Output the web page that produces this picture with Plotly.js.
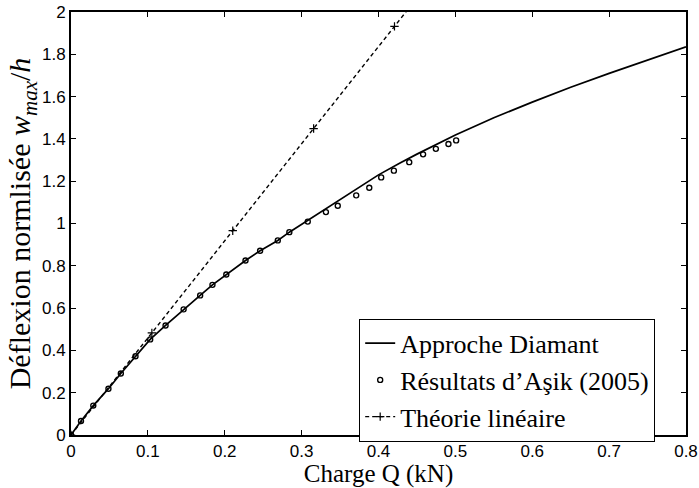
<!DOCTYPE html>
<html>
<head>
<meta charset="utf-8">
<script src="https://cdn.plot.ly/plotly-3.0.1.min.js"></script>
<style>html,body{margin:0;padding:0;background:#fff}#chart{width:699px;height:488px}</style>
</head>
<body>
<div id="chart"></div>
<script>
// Approche Diamant (solid curve)
const diamantQ = [0, 0.013, 0.029, 0.0487, 0.0648, 0.0839, 0.103, 0.123, 0.1465, 0.168, 0.184, 0.202, 0.227, 0.246, 0.269, 0.284, 0.308, 0.35, 0.4, 0.428, 0.45, 0.5, 0.55, 0.6, 0.65, 0.7, 0.75, 0.8];
const diamantW = [0, 0.066, 0.139, 0.219, 0.291, 0.372, 0.452, 0.518, 0.594, 0.660, 0.710, 0.759, 0.825, 0.871, 0.920, 0.959, 1.015, 1.112, 1.230, 1.286, 1.328, 1.418, 1.500, 1.574, 1.644, 1.710, 1.774, 1.835];
// Résultats d'Aşik (2005) (circles)
const asikQ = [0, 0.013, 0.029, 0.0487, 0.0648, 0.0839, 0.103, 0.123, 0.1465, 0.168, 0.184, 0.202, 0.227, 0.246, 0.269, 0.284, 0.308, 0.3316, 0.347, 0.371, 0.388, 0.4035, 0.420, 0.440, 0.458, 0.4746, 0.491, 0.501];
const asikW = [0, 0.066, 0.139, 0.219, 0.291, 0.372, 0.452, 0.518, 0.594, 0.660, 0.710, 0.759, 0.825, 0.871, 0.920, 0.959, 1.009, 1.054, 1.084, 1.133, 1.169, 1.218, 1.250, 1.290, 1.327, 1.353, 1.376, 1.393];
// Théorie linéaire (dashed)
const lineQ = [0, 0.1052, 0.2104, 0.3156, 0.4208, 0.526];
const lineW = [0, 0.483, 0.966, 1.449, 1.932, 2.415];

const xTicks = [0, 0.1, 0.2, 0.3, 0.4, 0.5, 0.6, 0.7, 0.8];
const xTickText = ['0', '0.1', '0.2', '0.3', '0.4', '0.5', '0.6', '0.7', '0.8'];
const yTicks = [0, 0.2, 0.4, 0.6, 0.8, 1, 1.2, 1.4, 1.6, 1.8, 2];
const yTickText = ['0', '0.2', '0.4', '0.6', '0.8', '1', '1.2', '1.4', '1.6', '1.8', '2'];

const serif = '"Liberation Serif", "DejaVu Serif", serif';
const sans = '"Liberation Sans", Arial, sans-serif';

const traces = [
  {x: diamantQ, y: diamantW, type: 'scatter', mode: 'lines', name: 'Approche Diamant',
   line: {color: '#000', width: 1.7}},
  {x: asikQ, y: asikW, type: 'scatter', mode: 'markers', name: 'Résultats d\u2019Aşik (2005)',
   marker: {symbol: 'circle-open', size: 5, color: '#000', line: {width: 1.4, color: '#000'}}},
  {x: lineQ, y: lineW, type: 'scatter', mode: 'lines+markers', name: 'Théorie linéaire',
   line: {color: '#000', width: 1.4, dash: '4px,3px'},
   marker: {symbol: 'cross-thin-open', size: 6, color: '#000', line: {width: 1.2, color: '#000'}}}
];

const axisCommon = {
  showline: true, linecolor: '#000', linewidth: 2, mirror: 'allticks',
  ticks: 'inside', ticklen: 5, tickwidth: 1, tickcolor: '#000',
  showgrid: false, zeroline: false,
  tickfont: {family: sans, size: 17, color: '#000'}
};

const layout = {
  width: 699, height: 488,
  margin: {l: 71, r: 13, t: 12, b: 53},
  paper_bgcolor: '#fff', plot_bgcolor: '#fff',
  showlegend: true,
  xaxis: Object.assign({}, axisCommon, {
    range: [0, 0.8], tickvals: xTicks, ticktext: xTickText, ticklabelstandoff: 0,
    title: {text: 'Charge Q (kN)', font: {family: serif, size: 25, color: '#000'}, standoff: 4}
  }),
  yaxis: Object.assign({}, axisCommon, {
    range: [0, 2], tickvals: yTicks, ticktext: yTickText,
    title: {text: 'Déflexion normlisée <i>w</i><sub><i>max</i></sub>/<i>h</i>', font: {family: serif, size: 30, color: '#000'}, standoff: 2}
  }),
  legend: {
    x: 0.4686, y: 0.275, xanchor: 'left', yanchor: 'top',
    bgcolor: '#fff', bordercolor: '#000', borderwidth: 1,
    font: {family: serif, size: 26, color: '#000'},
    itemwidth: 30, tracegroupgap: 0
  }
};

Plotly.newPlot('chart', traces, layout, {displayModeBar: false, staticPlot: true});
</script>
</body>
</html>
